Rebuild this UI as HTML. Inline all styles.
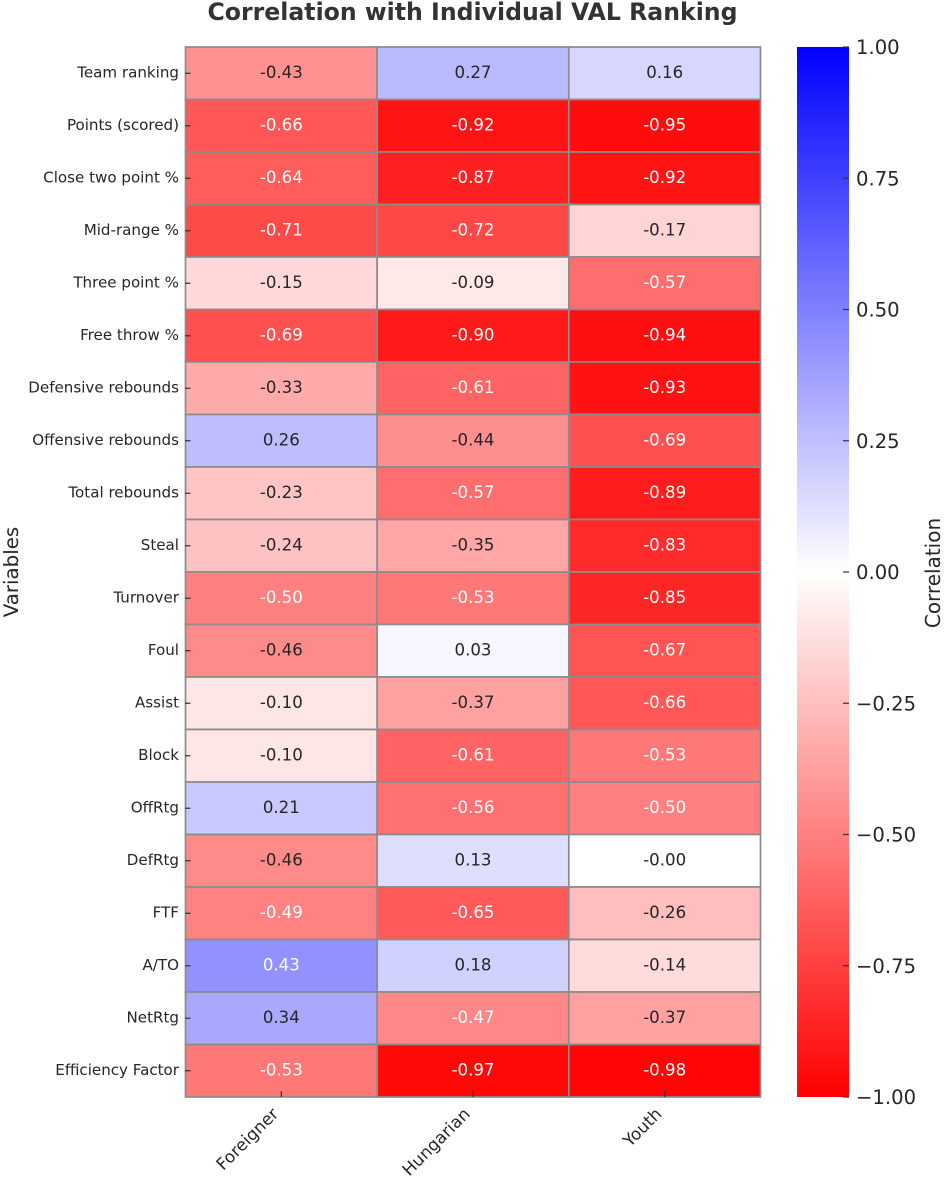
<!DOCTYPE html>
<html lang="en">
<head>
<meta charset="utf-8">
<title>Correlation with Individual VAL Ranking</title>
<style>
html,body{margin:0;padding:0;background:#fff;width:944px;height:1179px;overflow:hidden}
svg{display:block}
text{font-family:"DejaVu Sans","Liberation Sans",sans-serif}
</style>
</head>
<body>
<svg id="chart" xmlns="http://www.w3.org/2000/svg" width="944" height="1179" viewBox="0 0 944 1179">
  <defs>
    <linearGradient id="bwr" x1="0" y1="0" x2="0" y2="1">
      <stop offset="0" stop-color="#0000ff"/>
      <stop offset="0.5" stop-color="#ffffff"/>
      <stop offset="1" stop-color="#ff0000"/>
    </linearGradient>
  </defs>
  <text x="472.5" y="20" text-anchor="middle" font-size="23.6" font-weight="700" fill="#333333">Correlation with Individual VAL Ranking</text>
  <text transform="translate(18,572) rotate(-90)" text-anchor="middle" font-size="19.8" fill="#262626">Variables</text>
  <g id="cells"></g>
  <g id="annotations"></g>
  <g id="y-axis"></g>
  <g id="x-axis"></g>
  <rect x="797" y="47" width="52" height="1050" fill="url(#bwr)"/>
  <g id="colorbar-axis"></g>
  <text transform="translate(940,573) rotate(-90)" text-anchor="middle" font-size="20" fill="#262626">Correlation</text>
</svg>
<script>
const variables = ["Team ranking","Points (scored)","Close two point %","Mid-range %","Three point %","Free throw %","Defensive rebounds","Offensive rebounds","Total rebounds","Steal","Turnover","Foul","Assist","Block","OffRtg","DefRtg","FTF","A/TO","NetRtg","Efficiency Factor"];
const groups = ["Foreigner","Hungarian","Youth"];
const foreigner = [-0.43,-0.66,-0.64,-0.71,-0.15,-0.69,-0.33,0.26,-0.23,-0.24,-0.50,-0.46,-0.10,-0.10,0.21,-0.46,-0.49,0.43,0.34,-0.53];
const hungarian = [0.27,-0.92,-0.87,-0.72,-0.09,-0.90,-0.61,-0.44,-0.57,-0.35,-0.53,0.03,-0.37,-0.61,-0.56,0.13,-0.65,0.18,-0.47,-0.97];
const youth = [0.16,-0.95,-0.92,-0.17,-0.57,-0.94,-0.93,-0.69,-0.89,-0.83,-0.85,-0.67,-0.66,-0.53,-0.50,-0.001,-0.26,-0.14,-0.37,-0.98];
const colorbarTicks = [1,0.75,0.5,0.25,0,-0.25,-0.5,-0.75,-1];

const series = [foreigner, hungarian, youth];
const NS = "http://www.w3.org/2000/svg";
const plot = {left:185.5, right:760.5, top:47, bottom:1097};
const colW = (plot.right - plot.left) / groups.length;
const rowH = (plot.bottom - plot.top) / variables.length;
const xScale = i => plot.left + i * colW;
const yScale = i => plot.top + i * rowH;
const cbScale = v => 47 + (1 - v) / 2 * 1050;

function bwr(v){
  const t = Math.max(-1, Math.min(1, v));
  if (t >= 0) { const c = Math.round(255 * (1 - t)); return [c, c, 255]; }
  const c = Math.round(255 * (1 + t));
  return [255, c, c];
}
function luminance(rgb){
  const lin = rgb.map(c => { const s = c / 255; return s <= 0.03928 ? s / 12.92 : Math.pow((s + 0.055) / 1.055, 2.4); });
  return 0.2126 * lin[0] + 0.7152 * lin[1] + 0.0722 * lin[2];
}
function make(tag, parentId, props, text){
  const el = document.createElementNS(NS, tag);
  for (const k in props) el.setAttribute(k, props[k]);
  if (text !== undefined) el.textContent = text;
  document.getElementById(parentId).appendChild(el);
  return el;
}

series.forEach((values, c) => {
  values.forEach((v, r) => {
    const rgb = bwr(v);
    const cell = make("rect", "cells", {x: xScale(c), y: yScale(r), width: colW, height: rowH, fill: "rgb(" + rgb.join(",") + ")", stroke: "#8c8c8c", "stroke-width": 1.7});
    
    
    const label = make("text", "annotations", {x: xScale(c) + colW / 2, y: yScale(r) + rowH / 2 + 4.6, "text-anchor": "middle", "font-size": 16.6, fill: luminance(rgb) > 0.408 ? "#262626" : "#ffffff"}, v.toFixed(2));
    
    
  });
});

variables.forEach((name, r) => {
  const y = yScale(r) + rowH / 2;
  const tick = make("line", "y-axis", {x1: 185, x2: 190.5, y1: y, y2: y, stroke: "#333", "stroke-width": 1.2});
  
  
  const label = make("text", "y-axis", {x: 179, y: y + 4, "text-anchor": "end", "font-size": 15.1, fill: "#262626"}, name);
  
  
});

groups.forEach((name, c) => {
  const x = xScale(c) + colW / 2;
  const tick = make("line", "x-axis", {x1: x, x2: x, y1: 1091, y2: 1097, stroke: "#333", "stroke-width": 1.2});
  
  
  const label = make("text", "x-axis", {transform: "translate(" + (x - 2) + ",1115) rotate(-45)", "text-anchor": "end", "font-size": 16.8, fill: "#262626"}, name);
  
  
});

colorbarTicks.forEach(v => {
  const y = cbScale(v);
  const tick = make("line", "colorbar-axis", {x1: 843, x2: 849, y1: y, y2: y, stroke: "#333", "stroke-width": 1.2});
  
  
  const text = (v < 0 ? "\u2212" : "") + Math.abs(v).toFixed(2);
  const label = make("text", "colorbar-axis", {x: 856, y: y + 7, "font-size": 19.6, fill: "#262626"}, text);
  
  
});
</script>
</body>
</html>
